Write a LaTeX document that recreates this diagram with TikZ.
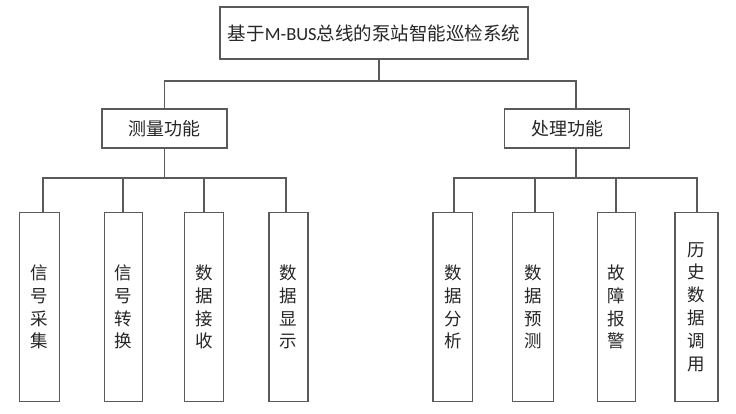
\documentclass[tikz,border=0pt]{standalone}
\usepackage{fontspec}
\setmainfont{Carlito}
\newfontfamily\cjk{Noto Sans CJK SC}
\begin{document}
\begin{tikzpicture}[x=1pt,y=-1pt,
  box/.style={draw=linegray, line width=1.2pt, fill=white, inner sep=0pt, text=black!85},
  leaf/.style={box, minimum height=188.6pt, align=center, font=\cjk\fontsize{17.5}{22.8}\selectfont},
  conn/.style={draw=linegray, line width=1.2pt}]
\definecolor{linegray}{HTML}{5A5A5A}
\useasboundingbox (0,0) rectangle (736,414);
% top
\node[box, minimum width=308pt, minimum height=52pt, font=\fontsize{18.5}{22}\selectfont] (top) at (374,33)
  {{\cjk 基于}M-BUS{\cjk 总线的泵站智能巡检系统}};
% mid
\node[box, minimum width=125pt, minimum height=39pt, font=\cjk\fontsize{18}{20}\selectfont] (m1) at (164.5,128.5) {测量功能};
\node[box, minimum width=125pt, minimum height=39pt, font=\cjk\fontsize{18}{20}\selectfont] (m2) at (567,128.5) {处理功能};
% leaves
\node[leaf, minimum width=39.5pt] (a1) at (39.5,307) {信\\号\\采\\集};
\node[leaf, minimum width=38.4pt] (a2) at (123.5,307) {信\\号\\转\\换};
\node[leaf, minimum width=39pt] (a3) at (203.8,307) {数\\据\\接\\收};
\node[leaf, minimum width=39pt] (a4) at (288.5,307) {数\\据\\显\\示};
\node[leaf, minimum width=39.7pt] (b1) at (452.8,307) {数\\据\\分\\析};
\node[leaf, minimum width=40.6pt] (b2) at (533,307) {数\\据\\预\\测};
\node[leaf, minimum width=38pt] (b3) at (616.7,307) {故\\障\\报\\警};
\node[leaf, minimum width=43pt] (b4) at (696.5,307) {历\\史\\数\\据\\调\\用};
% junction coordinates
\coordinate (tj) at (379,59);
\coordinate (tbus) at (379,81);
\coordinate (m2t) at (576,109);
\coordinate (m2b) at (576,148);
\coordinate (lbus) at (164.5,178);
\coordinate (rbus) at (576,178);
\coordinate (la1) at (43,212.7);
\coordinate (la2) at (123,212.7);
\coordinate (la3) at (204,212.7);
\coordinate (la4) at (286,212.7);
\coordinate (rb1) at (454,212.7);
\coordinate (rb2) at (535,212.7);
\coordinate (rb3) at (616,212.7);
\coordinate (rb4) at (697,212.7);
% top connectors
\draw[conn] (tj) -- (tbus);
\draw[conn] (m1.north) |- (tbus) -| (m2t);
% left group
\draw[conn] (m1.south) -- (lbus);
\draw[conn] (la1) |- (lbus) -| (la4);
\draw[conn] (la2) -- (la2 |- lbus);
\draw[conn] (la3) -- (la3 |- lbus);
% right group
\draw[conn] (m2b) -- (rbus);
\draw[conn] (rb1) |- (rbus) -| (rb4);
\draw[conn] (rb2) -- (rb2 |- rbus);
\draw[conn] (rb3) -- (rb3 |- rbus);
\end{tikzpicture}
\end{document}
